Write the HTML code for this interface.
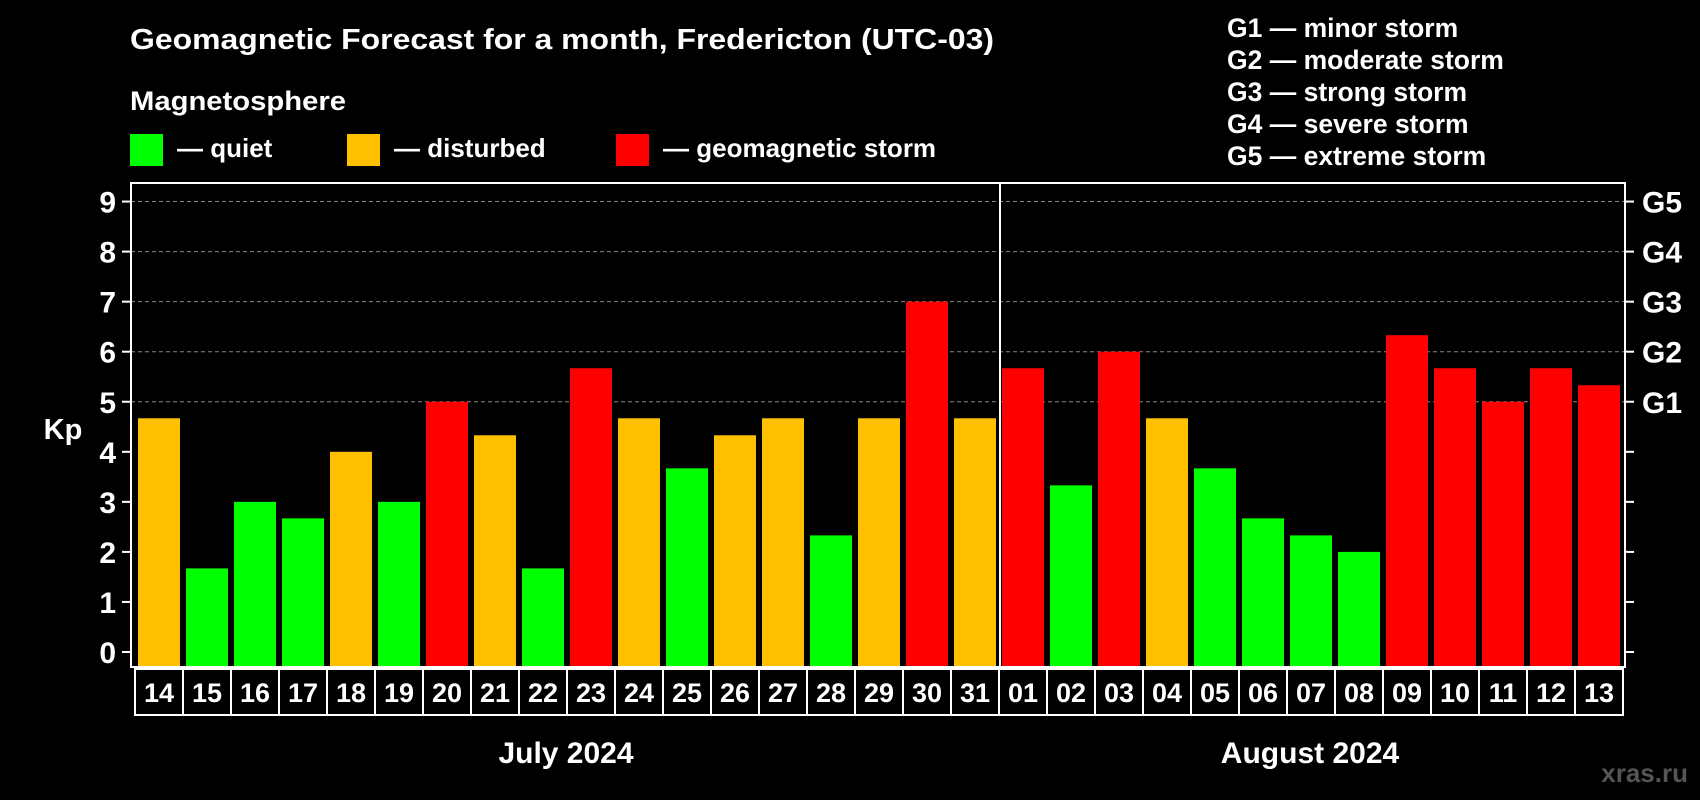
<!DOCTYPE html>
<html><head><meta charset="utf-8"><style>
html,body{margin:0;padding:0;background:#000;}
svg{display:block;font-family:"Liberation Sans",sans-serif;font-weight:bold;}
</style></head><body>
<svg id="chart" width="1700" height="800" viewBox="0 0 1700 800">
<rect x="0" y="0" width="1700" height="800" fill="#000"/>
<text x="130" y="49" font-size="29" fill="#fff" textLength="864" lengthAdjust="spacingAndGlyphs">Geomagnetic Forecast for a month, Fredericton (UTC-03)</text>
<text x="130" y="110" font-size="27" fill="#fff" textLength="216" lengthAdjust="spacingAndGlyphs">Magnetosphere</text>
<g><rect x="130" y="134" width="33" height="32" fill="#00ff00"/><text x="177" y="157" font-size="26" fill="#fff">— quiet</text></g>
<g><rect x="347" y="134" width="33" height="32" fill="#ffc000"/><text x="394" y="157" font-size="26" fill="#fff">— disturbed</text></g>
<g><rect x="616" y="134" width="33" height="32" fill="#ff0000"/><text x="663" y="157" font-size="26" fill="#fff">— geomagnetic storm</text></g>
<g font-size="26.5" fill="#fff">
<text x="1227" y="37">G1 — minor storm</text>
<text x="1227" y="69">G2 — moderate storm</text>
<text x="1227" y="101">G3 — strong storm</text>
<text x="1227" y="133">G4 — severe storm</text>
<text x="1227" y="165">G5 — extreme storm</text>
</g>
<text x="63" y="439" font-size="29" fill="#fff" text-anchor="middle">Kp</text>
<g id="grid"></g><g id="bars"></g><g id="axes"></g>
<text x="566" y="763" font-size="30" fill="#fff" text-anchor="middle">July 2024</text>
<text x="1310" y="763" font-size="30" fill="#fff" text-anchor="middle">August 2024</text>
<text x="1688" y="782" font-size="26" fill="#555" text-anchor="end">xras.ru</text>
</svg>
<script>
const days=["14","15","16","17","18","19","20","21","22","23","24","25","26","27","28","29","30","31","01","02","03","04","05","06","07","08","09","10","11","12","13"];
const kp=[4.67,1.67,3,2.67,4,3,5,4.33,1.67,5.67,4.67,3.67,4.33,4.67,2.33,4.67,7,4.67,5.67,3.33,6,4.67,3.67,2.67,2.33,2,6.33,5.67,5,5.67,5.33];
const yTicks=[0,1,2,3,4,5,6,7,8,9];
const gLabels=["","","","","","G1","G2","G3","G4","G5"];
const NS="http://www.w3.org/2000/svg";
const L=131,R=1625,T=183,B=667,y0=652,unit=50.05,x0=135,pitch=48;
const yS=v=>y0-v*unit;
const xS=i=>x0+i*pitch;
function mk(tag,attrs,parent){const e=document.createElementNS(NS,tag);for(const k in attrs)e.setAttribute(k,attrs[k]);parent.appendChild(e);return e;}
const grid=document.getElementById('grid'),bars=document.getElementById('bars'),axes=document.getElementById('axes');
yTicks.forEach((t,i)=>{
  if(t>=5){const gl=mk('line',{x1:L,x2:R,y1:yS(t),y2:yS(t),stroke:'#888','stroke-width':1,'stroke-dasharray':'4,3'},grid);
  
  }
  const tk=mk('line',{x1:L-9,x2:L,y1:yS(t),y2:yS(t),stroke:'#fff','stroke-width':2},axes);
  
  
  const tk2=mk('line',{x1:R,x2:R+9,y1:yS(t),y2:yS(t),stroke:'#fff','stroke-width':2},axes);
  
  
  const lb=mk('text',{x:116,y:yS(t)+11,'font-size':30,fill:'#fff','text-anchor':'end'},axes);lb.textContent=t;
  
  
  if(gLabels[i]){const gl2=mk('text',{x:1642,y:yS(t)+11,'font-size':30,fill:'#fff'},axes);gl2.textContent=gLabels[i];
  
  }
});
kp.forEach((v,i)=>{
  const c=v>=5?'#ff0000':(v>=4?'#ffc000':'#00ff00');
  const b=mk('rect',{x:xS(i)+3,y:yS(v),width:42,height:B-yS(v),fill:c},bars);
  
  
  const bx=mk('rect',{x:xS(i),y:669,width:pitch,height:46,fill:'none',stroke:'#fff','stroke-width':2},axes);
  
  
  const dt=mk('text',{x:xS(i)+pitch/2,y:702,'font-size':27,fill:'#fff','text-anchor':'middle'},axes);dt.textContent=days[i];
  
  
});
const fr=mk('rect',{x:L,y:T,width:R-L,height:B-T,fill:'none',stroke:'#fff','stroke-width':2},axes);


const sep=days.indexOf("01");
const ms=mk('line',{x1:xS(sep)+1,x2:xS(sep)+1,y1:T,y2:B,stroke:'#fff','stroke-width':2},axes);


</script>
</body></html>
